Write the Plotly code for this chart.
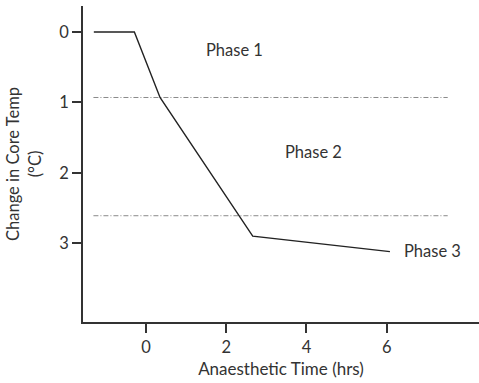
import plotly.graph_objects as go

# Core temperature change over anaesthetic time
time_hrs = [-1.3, -0.29, 0.35, 2.66, 6.08]
temp_drop = [0.0, 0.0, 0.93, 2.90, 3.12]

# Phase boundaries
boundary_y = [0.93, 2.61]
boundary_x = [-1.31, 7.52]

# Phase labels
phase_names = ["Phase 1", "Phase 2", "Phase 3"]
phase_x = [2.2, 4.17, 7.13]
phase_y = [0.26, 1.70, 3.11]

font_family = "Lato, 'Open Sans', sans-serif"
ink = "#333333"

fig = go.Figure()

for by in boundary_y:
    fig.add_trace(go.Scatter(
        x=boundary_x, y=[by, by], mode="lines",
        line=dict(color="#8a8a8a", width=1, dash="5px,2px,1px,2px"),
        hoverinfo="skip", showlegend=False,
    ))

fig.add_trace(go.Scatter(
    x=time_hrs, y=temp_drop, mode="lines",
    line=dict(color="#222222", width=1.4),
    showlegend=False,
))

for name, px, py in zip(phase_names, phase_x, phase_y):
    fig.add_annotation(x=px, y=py, text=name, showarrow=False,
                       font=dict(family=font_family, size=16.5, color=ink))

fig.update_layout(
    width=479, height=383,
    margin=dict(l=83, r=0, t=6, b=61),
    paper_bgcolor="white", plot_bgcolor="white",
    font=dict(family=font_family, size=16.5, color=ink),
    xaxis=dict(
        range=[-1.57, 8.30],
        tickvals=[0, 2, 4, 6],
        showgrid=False, zeroline=False,
        showline=True, linecolor=ink, linewidth=1.5,
        ticks="outside", ticklen=9, tickcolor=ink, tickwidth=1.5,
        tickfont=dict(size=16.5),
        title=dict(text="Anaesthetic Time (hrs)", standoff=8,
                   font=dict(size=17)),
    ),
    yaxis=dict(
        range=[4.12, -0.37],
        tickvals=[0, 1, 2, 3],
        showgrid=False, zeroline=False,
        showline=True, linecolor=ink, linewidth=1.5,
        ticks="outside", ticklen=9, tickcolor=ink, tickwidth=1.5,
        tickfont=dict(size=16.5),
        title=dict(text="Change in Core Temp<br>(°C)", standoff=14,
                   font=dict(size=16.5)),
    ),
)

fig.write_html("out.html")
